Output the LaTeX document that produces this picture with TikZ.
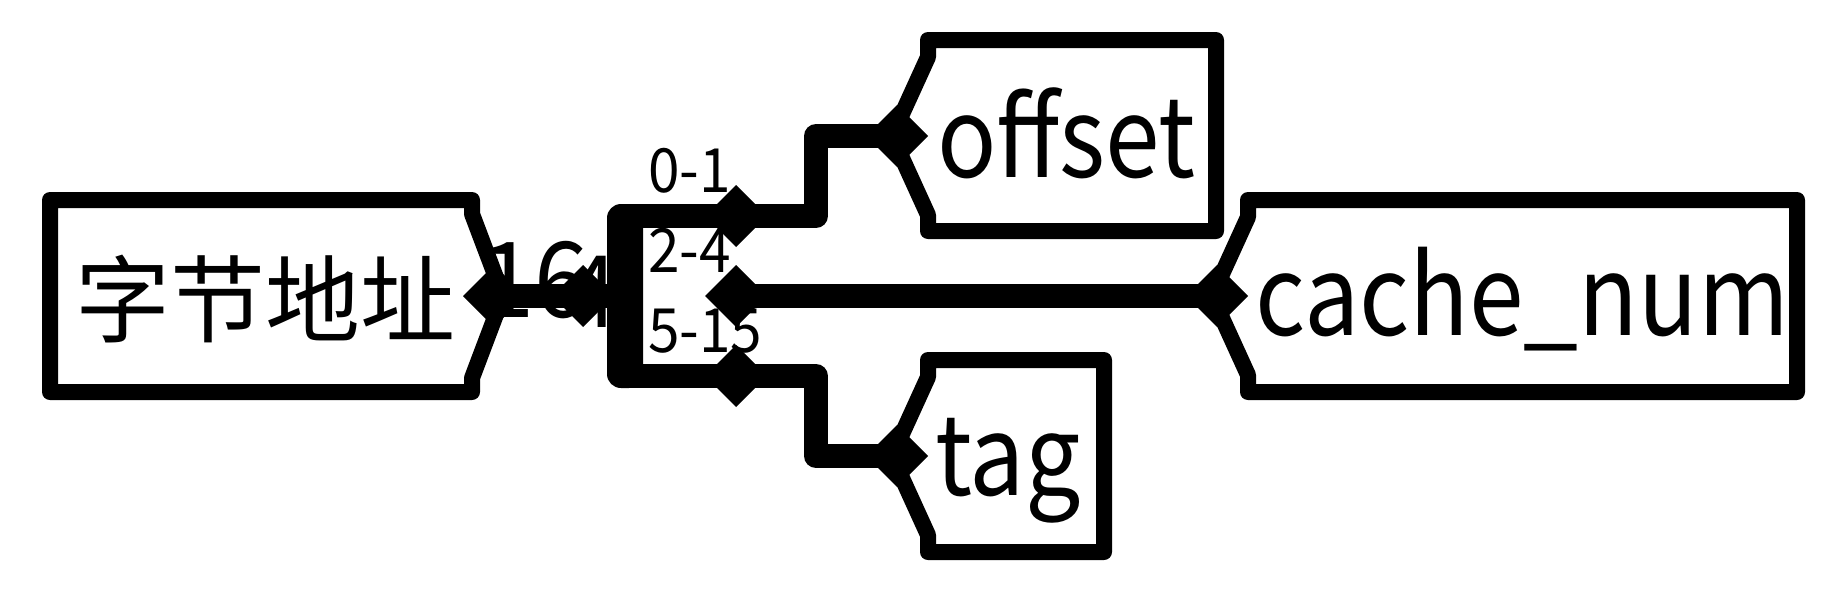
\documentclass[tikz,border=0pt]{standalone}
\usepackage{fontspec}
\setmainfont{Noto Sans CJK SC}
\newfontfamily\latinf[FakeStretch=0.93]{Noto Sans CJK SC}
\newfontfamily\latinw[FakeStretch=0.885]{Noto Sans CJK SC}
\usetikzlibrary{calc}
\begin{document}
\begin{tikzpicture}[x=1pt,y=-1pt,
  box/.style={draw=black,line width=16pt,line join=round,fill=white},
  bus/.style={draw=black,line width=24pt,line join=round},
  big/.style={font=\latinw\fontsize{111}{111}\selectfont,inner sep=0pt,anchor=base west},
  small/.style={font=\latinf\fontsize{61}{61}\selectfont,inner sep=0pt,anchor=base west}]
\useasboundingbox (0,0) rectangle (1840,592);
% boxes
\draw[box] (50,200) -- (472,200) -- (472,214) -- (503,296) -- (472,378) -- (472,392) -- (50,392) -- cycle;
\draw[box] (1216,40) -- (928,40) -- (928,57) -- (892,136) -- (928,215) -- (928,231) -- (1216,231) -- cycle;
\draw[box] (1797,200) -- (1248,200) -- (1248,217) -- (1212,296) -- (1248,375) -- (1248,392) -- (1797,392) -- cycle;
\draw[box] (1104,360) -- (928,360) -- (928,377) -- (892,456) -- (928,535) -- (928,552) -- (1104,552) -- cycle;
% coordinates of pins
\coordinate (inp) at (494,296);
\coordinate (spin) at (583,296);
\coordinate (o1) at (736,216);
\coordinate (o2) at (736,296);
\coordinate (o3) at (736,376);
\coordinate (poff) at (897,136);
\coordinate (pcache) at (1217,296);
\coordinate (ptag) at (897,456);
% texts behind the wires
\node[font=\latinf\fontsize{105}{105}\selectfont,inner sep=0pt,anchor=base west] (w) at (480,317) {16};
\node[font=\latinf\fontsize{100}{100}\selectfont,inner sep=0pt,anchor=base west] (w4) at (566,327) {4};
% wires
\draw[bus] (inp) -- (spin) -- (625,296);
\fill[rounded corners=14pt] (607,204) rectangle (643,388);
\draw[bus] (625,216) -- (o1) -- (816,216) -- (816,136) -- (poff);
\draw[bus] (o2) -- (pcache);
\draw[bus] (625,376) -- (o3) -- (816,376) -- (816,456) -- (ptag);
% pins
\foreach \p in {inp,spin,o1,o2,o3,poff,pcache,ptag}
  \fill ($(\p)+(0,-31)$) -- ($(\p)+(31,0)$) -- ($(\p)+(0,31)$) -- ($(\p)+(-31,0)$) -- cycle;
% texts
\node[font=\fontsize{95}{95}\selectfont,inner sep=0pt,anchor=base west] (tin) at (75,335) {字节地址};
\node[big] (toff) at (937,177) {offset};
\node[big] (tcache) at (1255,335) {cache\_num};
\node[big] (ttag) at (935,495) {tag};
\node[small] (l1) at (648,192) {0-1};
\node[small] (l2) at (648,272) {2-4};
\node[small] (l3) at (648,352) {5-15};
\end{tikzpicture}
\end{document}
